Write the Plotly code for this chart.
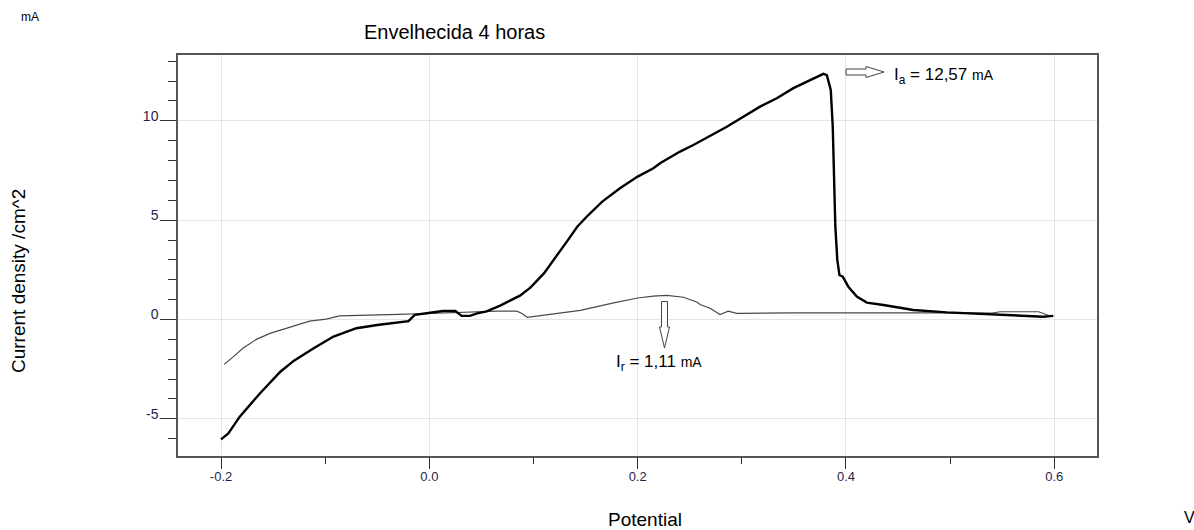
import plotly.graph_objects as go

# ---------------- data ----------------
fwd_v = [-0.2, -0.193, -0.182, -0.1625, -0.143, -0.130, -0.111, -0.092, -0.070, -0.050,
         -0.020, -0.014, 0.001, 0.013, 0.025, 0.031, 0.039, 0.046, 0.055, 0.068,
         0.087, 0.097, 0.110, 0.122, 0.132, 0.142, 0.151, 0.166, 0.183, 0.200,
         0.2151, 0.2215, 0.2407, 0.2535, 0.2856, 0.3175, 0.3336, 0.3495, 0.3655, 0.3783,
         0.3816, 0.3854, 0.3873, 0.3886, 0.3898, 0.3917, 0.3937, 0.3969, 0.4023, 0.4104,
         0.42, 0.436, 0.4647, 0.4968, 0.5288, 0.5607, 0.5895, 0.599]
fwd_i = [-6.03, -5.73, -4.89, -3.71, -2.63, -2.07, -1.45, -0.86, -0.44, -0.28,
         -0.08, 0.23, 0.34, 0.43, 0.43, 0.18, 0.18, 0.31, 0.41, 0.70,
         1.20, 1.60, 2.32, 3.16, 3.92, 4.67, 5.17, 5.93, 6.60, 7.19,
         7.61, 7.86, 8.45, 8.78, 9.70, 10.71, 11.13, 11.64, 12.05, 12.36,
         12.30, 11.55, 9.70, 7.19, 4.67, 2.99, 2.24, 2.15, 1.65, 1.15,
         0.85, 0.73, 0.48, 0.36, 0.28, 0.19, 0.14, 0.18]

rev_v = [0.598, 0.585, 0.548, 0.54, 0.5, 0.45, 0.40, 0.35, 0.30, 0.295,
         0.287, 0.279, 0.27, 0.26, 0.2567, 0.244, 0.228, 0.215, 0.2, 0.177,
         0.145, 0.113, 0.094, 0.089, 0.084, 0.065, 0.04, 0.0, -0.03, -0.057,
         -0.086, -0.092, -0.099, -0.115, -0.137, -0.153, -0.166, -0.179, -0.188, -0.197]
rev_i = [0.14, 0.39, 0.39, 0.32, 0.33, 0.34, 0.35, 0.33, 0.31, 0.31,
         0.42, 0.25, 0.55, 0.75, 0.88, 1.12, 1.21, 1.18, 1.08, 0.84,
         0.46, 0.23, 0.11, 0.30, 0.42, 0.42, 0.36, 0.30, 0.26, 0.23,
         0.18, 0.11, 0.02, -0.08, -0.44, -0.70, -1.00, -1.45, -1.87, -2.26]

x_tickvals = [-0.2, 0.0, 0.2, 0.4, 0.6]
x_ticktext = ["-0.2", "0.0", "0.2", "0.4", "0.6"]
y_tickvals = [-5, 0, 5, 10]
y_ticktext = ["-5", "0", "5", "10"]

title_text = "Envelhecida 4 horas"
ytitle_text = "Current density /cm^2"
xtitle_text = "Potential"
ia_text = "I<sub>a</sub> = 12,57 <span style='font-size:14px'>mA</span>"
ir_text = "I<sub>r</sub> = 1,11 <span style='font-size:14px'>mA</span>"

# ---------------- layout geometry (pixels) ----------------
W, H = 1194, 530
L, R, T, B = 178, 1097, 55, 456


def px(xp):
    return (xp - L) / (R - L)


def py(yp):
    return (B - yp) / (B - T)


FONT = "Liberation Sans, Arial, sans-serif"
TICKCOL = "#1f1f4f"

fig = go.Figure()
fig.add_trace(go.Scatter(x=rev_v, y=rev_i, mode="lines",
                         line=dict(color="#4a4a4a", width=1.2), showlegend=False))
fig.add_trace(go.Scatter(x=fwd_v, y=fwd_i, mode="lines",
                         line=dict(color="#000000", width=2.4), showlegend=False))

fig.update_layout(
    width=W, height=H,
    margin=dict(l=L, r=W - R, t=T, b=H - B, pad=0),
    paper_bgcolor="white", plot_bgcolor="white",
    font=dict(family=FONT, color="#000"),
    showlegend=False,
)

fig.update_xaxes(
    range=[-0.2413, 0.641],
    tickvals=x_tickvals, ticktext=x_ticktext,
    ticks="outside", ticklen=11, tickwidth=1.3, tickcolor="#333",
    tickfont=dict(size=13, color=TICKCOL),
    ticklabelstandoff=-3,
    showgrid=True, gridcolor="#e4e4e4", gridwidth=1,
    zeroline=False,
    showline=True, linecolor="#555", linewidth=1.5, mirror=True,
    minor=dict(dtick=0.1, tick0=0, ticks="outside", ticklen=6, tickwidth=1.3,
               tickcolor="#333", showgrid=False),
)
fig.update_yaxes(
    range=[-6.87, 13.31],
    tickvals=y_tickvals, ticktext=y_ticktext,
    ticks="outside", ticklen=16, tickwidth=1.3, tickcolor="#333",
    tickfont=dict(size=14, color=TICKCOL),
    ticklabelshift=-5, ticklabelstandoff=-1,
    showgrid=True, gridcolor="#e4e4e4", gridwidth=1,
    zeroline=False,
    showline=True, linecolor="#555", linewidth=1.5, mirror=True,
    minor=dict(dtick=1, tick0=0, ticks="outside", ticklen=8, tickwidth=1.3,
               tickcolor="#333", showgrid=False),
)

ann = [
    dict(text="mA", x=px(30), y=py(17), xanchor="center", yanchor="middle",
         font=dict(size=12)),
    dict(text=title_text, x=px(362), y=py(32), xanchor="left", yanchor="middle",
         font=dict(size=20)),
    dict(text=xtitle_text, x=px(645), y=py(519), xanchor="center", yanchor="middle",
         font=dict(size=19)),
    dict(text="V", x=px(1182), y=py(517), xanchor="left", yanchor="middle",
         font=dict(size=16)),
    dict(text=ytitle_text, x=px(18), y=py(281), xanchor="center", yanchor="middle",
         textangle=-90, font=dict(size=19)),
    dict(text=ia_text, x=px(892), y=py(76), xanchor="left", yanchor="middle",
         font=dict(size=17)),
    dict(text=ir_text, x=px(614), y=py(363), xanchor="left", yanchor="middle",
         font=dict(size=17)),
]
for a in ann:
    a.update(xref="paper", yref="paper", showarrow=False)
fig.update_layout(annotations=ann)


def poly(points):
    return "M " + " L ".join(f"{px(a):.5f},{py(b):.5f}" for a, b in points) + " Z"


right_arrow = [(846, 69), (866, 69), (866, 66.5), (884, 72), (866, 77.5), (866, 75), (846, 75)]
down_arrow = [(661.5, 301.5), (667.5, 301.5), (667.5, 327), (669.5, 327), (664.5, 348),
              (659.5, 327), (661.5, 327)]
for pts in (right_arrow, down_arrow):
    fig.add_shape(type="path", path=poly(pts), xref="paper", yref="paper",
                  fillcolor="white", line=dict(color="#444", width=1))

fig.write_html("out.html")
